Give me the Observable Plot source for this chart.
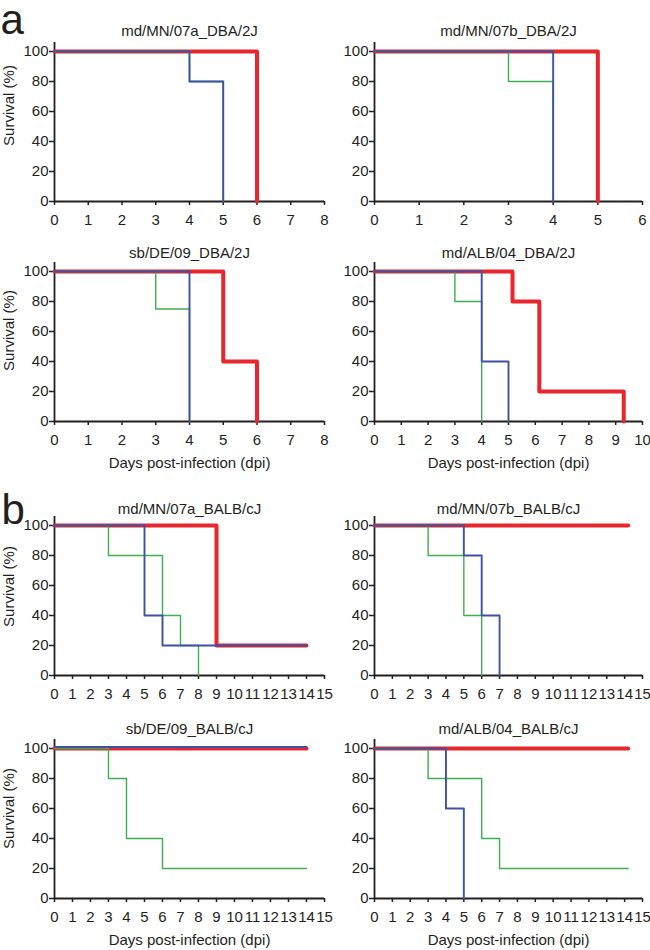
<!DOCTYPE html>
<html>
<head>
<meta charset="utf-8">
<script src="https://cdn.jsdelivr.net/npm/d3@7"></script>
<script src="https://cdn.jsdelivr.net/npm/@observablehq/plot@0.6"></script>
<style>
  body { margin: 0; background: #fff; }
  #chart { position: relative; width: 650px; height: 950px; overflow: hidden; background: #fff;
           font-family: "Liberation Sans", Arial, Helvetica, sans-serif; }
  #chart svg { position: absolute; }
</style>
</head>
<body>
<div id="chart"></div>
<script>
// ---------------- data ----------------
const titles = [
  "md/MN/07a_DBA/2J", "md/MN/07b_DBA/2J",
  "sb/DE/09_DBA/2J", "md/ALB/04_DBA/2J",
  "md/MN/07a_BALB/cJ", "md/MN/07b_BALB/cJ",
  "sb/DE/09_BALB/cJ", "md/ALB/04_BALB/cJ"
];
const xMax = [8, 6, 8, 10, 15, 15, 15, 15];
const yTicks = [0, 20, 40, 60, 80, 100];
const panelLetters = ["a", "b"];
const yLabel = "Survival (%)";
const xLabel = "Days post-infection (dpi)";

// red series (thick)
const redDays = [[0, 6], [0, 5], [0, 5, 6], [0, 5.15, 6.15, 9.3], [0, 9, 14], [0, 14.2], [0, 14], [0, 14.2]];
const redSurv = [[100, 0], [100, 0], [100, 40, 0], [100, 80, 20, 0], [100, 20, 20], [100, 100], [100, 100], [100, 100]];
// green series
const greenDays = [[0, 4, 5], [0, 3, 4], [0, 3, 4], [0, 3, 4], [0, 3, 6, 7, 8], [0, 3, 5, 6], [0, 3, 4, 6, 14], [0, 3, 6, 7, 14.2]];
const greenSurv = [[100, 80, 0], [100, 80, 0], [100, 75, 0], [100, 80, 0], [100, 80, 40, 20, 0], [100, 80, 40, 0], [100, 80, 40, 20, 20], [100, 80, 40, 20, 20]];
// blue series
const blueDays = [[0, 4, 5], [0, 4], [0, 4], [0, 4, 5], [0, 5, 6, 14], [0, 5, 6, 7], [0, 14], [0, 4, 5]];
const blueSurv = [[100, 80, 0], [100, 0], [100, 0], [100, 40, 0], [100, 40, 20, 20], [100, 80, 40, 0], [101, 101], [100, 60, 0]];

// ---------------- layout / style ----------------
const INK = "#231f20";
const RED = "#e8262d", GREEN = "#3fae4f", BLUE = "#3d52a1";
const FONT = "'Liberation Sans', Arial, Helvetica, sans-serif";
const cols = [{left: 0, marginLeft: 54, marginRight: 1}, {left: 325, marginLeft: 49, marginRight: 8}];
const frameTops = [42, 262, 516, 739];
const frameH = 159, mTop = 30, mBottom = 55, W = 325;
const titleDy = [-7, -5, -3, -6];
const yLabelDy = [-16.5, -11.5, -9.5, -10.5];

const chart = document.getElementById("chart");

function series(days, surv) {
  return days.map((d, k) => ({day: d, surv: surv[k]}));
}

for (let i = 0; i < 8; i++) {
  const c = cols[i % 2];
  const row = Math.floor(i / 2);
  const marks = [
    Plot.ruleX([0], {stroke: INK, strokeWidth: 1.8}),
    Plot.ruleY([0], {stroke: INK, strokeWidth: 1.8}),
    Plot.axisX({ticks: d3.range(0, xMax[i] + 1), tickSize: 4, tickPadding: 9, fontSize: 15,
                tickFormat: d => String(d), label: null, stroke: INK, strokeWidth: 1.5}),
    Plot.axisY({ticks: yTicks, tickSize: 5, tickPadding: 1, fontSize: 15,
                tickFormat: d => String(d), label: null, stroke: INK, strokeWidth: 1.5}),
    Plot.line(series(redDays[i], redSurv[i]), {x: "day", y: "surv", curve: "step-after", stroke: RED, strokeWidth: 4}),
    Plot.line(series(greenDays[i], greenSurv[i]), {x: "day", y: "surv", curve: "step-after", stroke: GREEN, strokeWidth: 1.4}),
    Plot.line(series(blueDays[i], blueSurv[i]), {x: "day", y: "surv", curve: "step-after", stroke: BLUE, strokeWidth: 1.9}),
    Plot.text([titles[i]], {frameAnchor: "top", textAnchor: "middle", lineAnchor: "bottom",
                            dy: titleDy[row], fontSize: 15, fill: INK})
  ];
  if (i % 2 === 0) {
    marks.push(Plot.text([yLabel], {frameAnchor: "left", rotate: -90, textAnchor: "middle", lineAnchor: "middle",
                                    dx: -45, dy: yLabelDy[row], fontSize: 15, fill: INK}));
  }
  if (row === 1 || row === 3) {
    marks.push(Plot.text([xLabel], {frameAnchor: "bottom", textAnchor: "middle", lineAnchor: "bottom",
                                    dy: 46, fontSize: 15, fill: INK}));
  }
  if (i === 0) {
    marks.push(Plot.text([panelLetters[0]], {frameAnchor: "top-left", textAnchor: "start", lineAnchor: "bottom",
                                             dx: -54, dy: -9, fontSize: 42, fill: INK}));
  }
  if (i === 4) {
    marks.push(Plot.text([panelLetters[1]], {frameAnchor: "top-left", textAnchor: "start", lineAnchor: "bottom",
                                             dx: -53, dy: 7, fontSize: 42, fill: INK}));
  }
  const svg = Plot.plot({
    width: W,
    height: mTop + frameH + mBottom,
    marginLeft: c.marginLeft,
    marginRight: c.marginRight,
    marginTop: mTop,
    marginBottom: mBottom,
    x: {domain: [0, xMax[i]], axis: null},
    y: {domain: [0, 106], axis: null},
    style: {background: "transparent", overflow: "visible", fontFamily: FONT, color: INK},
    marks
  });
  svg.style.left = c.left + "px";
  svg.style.top = (frameTops[row] - mTop) + "px";
  chart.appendChild(svg);
}
</script>
</body>
</html>
